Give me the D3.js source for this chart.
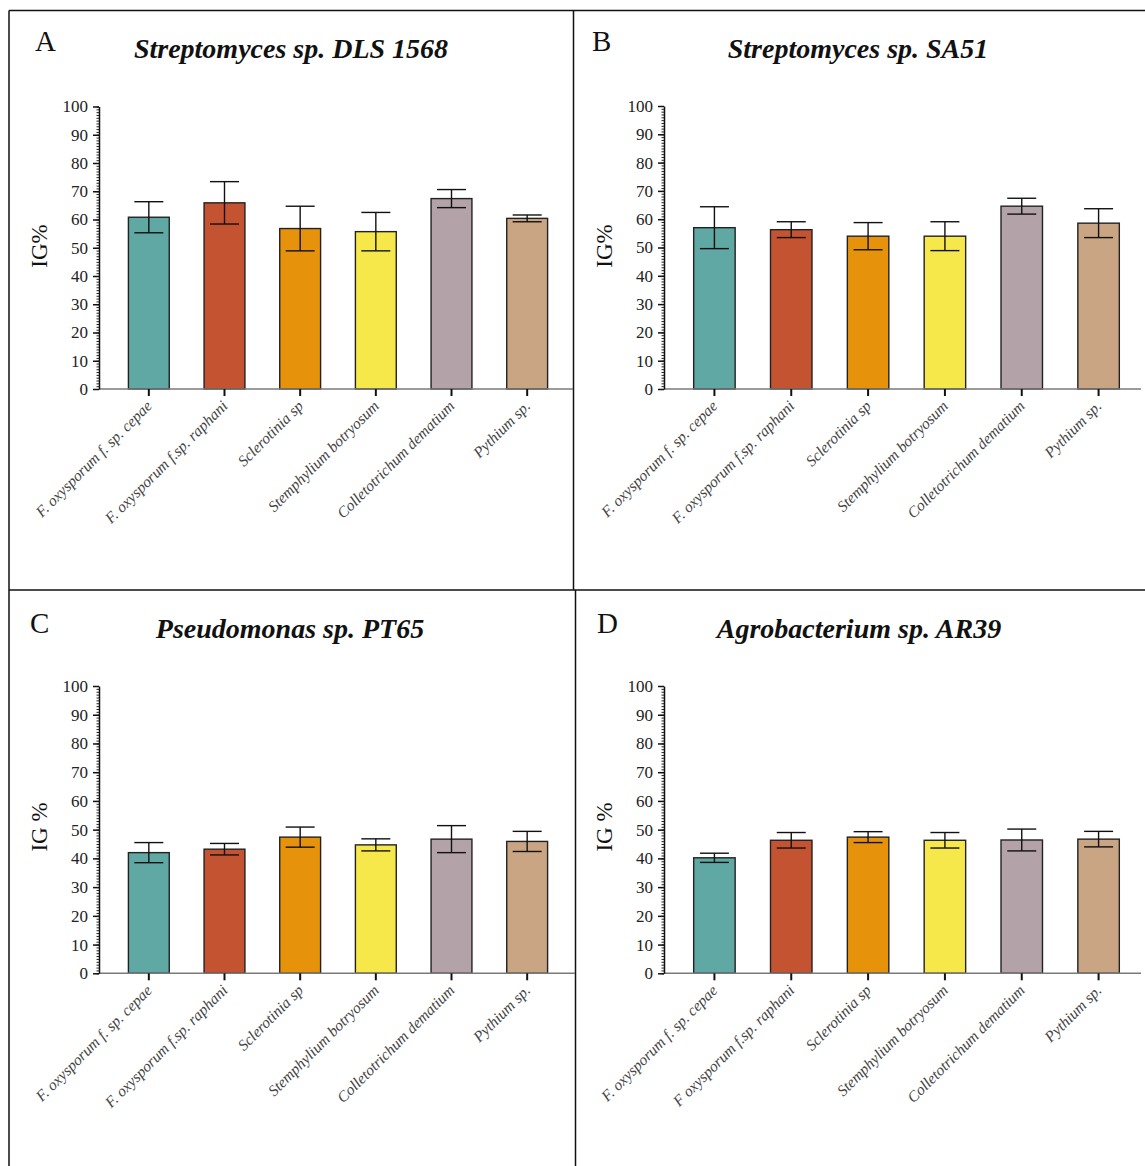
<!DOCTYPE html>
<html>
<head>
<meta charset="utf-8">
<script src="https://cdn.jsdelivr.net/npm/d3@7"></script>
<style>
  html, body { margin: 0; padding: 0; background: #fff; }
  svg { display: block; }
</style>
</head>
<body>
<svg id="fig" width="1145" height="1166"></svg>
<script>
// Pathogen names on the x axis
const pathogens = ["F. oxysporum f. sp. cepae", "F. oxysporum f.sp. raphani", "Sclerotinia sp",
                   "Stemphylium botryosum", "Colletotrichum dematium", "Pythium sp."];
const pathogensD = ["F. oxysporum f. sp. cepae", "F oxysporum f.sp. raphani", "Sclerotinia sp",
                    "Stemphylium botryosum", "Colletotrichum dematium", "Pythium sp."];

// Mean growth inhibition (IG %) and standard deviation for each strain
const meanA = [60.8, 65.9, 56.8, 55.7, 67.4, 60.4];
const sdA   = [5.5, 7.5, 7.9, 6.8, 3.2, 1.2];
const meanB = [57.0, 56.3, 54.0, 54.0, 64.6, 58.6];
const sdB   = [7.4, 2.8, 4.8, 5.1, 2.8, 5.1];
const meanC = [42.0, 43.2, 47.4, 44.7, 46.7, 45.9];
const sdC   = [3.5, 2.0, 3.5, 2.1, 4.7, 3.5];
const meanD = [40.2, 46.3, 47.4, 46.3, 46.4, 46.7];
const sdD   = [1.6, 2.7, 1.9, 2.7, 3.8, 2.7];

const yTicks = [0, 10, 20, 30, 40, 50, 60, 70, 80, 90, 100];
const barColors = ["#5fa8a3", "#c45331", "#e6930b", "#f6e84b", "#b3a2a8", "#c9a584"];

const svg = d3.select("#fig");
const serif = "'Liberation Serif', 'Times New Roman', serif";

// Panel frame lines
const frame = svg.append("g").attr("stroke", "#111").attr("stroke-width", 1.5).attr("fill", "none");
frame.append("line").attr("x1", 9).attr("y1", 10.5).attr("x2", 1145).attr("y2", 10.5);
frame.append("line").attr("x1", 9).attr("y1", 10.5).attr("x2", 9).attr("y2", 1166);
frame.append("line").attr("x1", 573.5).attr("y1", 10.5).attr("x2", 573.5).attr("y2", 590);
frame.append("line").attr("x1", 575.5).attr("y1", 590).attr("x2", 575.5).attr("y2", 1166);
frame.append("line").attr("x1", 9).attr("y1", 590).attr("x2", 1145).attr("y2", 590);

const panels = [
  { letter: "A", title: "Streptomyces sp. DLS 1568", ylab: "IG%",  names: pathogens,  mean: meanA, sd: sdA,
    axisX: 99,  band: [111, 565],  y0: 389,   y100: 106.5, xEnd: 573,
    letterPos: [35, 51],  titlePos: [291, 58],  ylabPos: [47, 246] },
  { letter: "B", title: "Streptomyces sp. SA51",      ylab: "IG%",  names: pathogens,  mean: meanB, sd: sdB,
    axisX: 664, band: [676, 1137], y0: 389,   y100: 106,   xEnd: 1141,
    letterPos: [592, 51], titlePos: [858, 58],  ylabPos: [612, 246] },
  { letter: "C", title: "Pseudomonas sp. PT65",       ylab: "IG %", names: pathogens,  mean: meanC, sd: sdC,
    axisX: 99,  band: [111, 565],  y0: 973.3, y100: 686,   xEnd: 575,
    letterPos: [30, 633], titlePos: [290, 638], ylabPos: [47, 827] },
  { letter: "D", title: "Agrobacterium sp. AR39",     ylab: "IG %", names: pathogensD, mean: meanD, sd: sdD,
    axisX: 664, band: [676, 1137], y0: 973.3, y100: 686,   xEnd: 1141,
    letterPos: [597, 633], titlePos: [859, 638], ylabPos: [612, 827] }
];

panels.forEach(p => {
  const g = svg.append("g");
  const x = d3.scaleBand().domain(p.names).range(p.band).paddingInner(0.46).paddingOuter(0.23);
  const y = d3.scaleLinear().domain([0, 100]).range([p.y0, p.y100]);

  // Panel letter and title
  g.append("text").attr("x", p.letterPos[0]).attr("y", p.letterPos[1])
    .attr("font-family", serif).attr("font-size", 29).attr("fill", "#111").text(p.letter);
  g.append("text").attr("x", p.titlePos[0]).attr("y", p.titlePos[1]).attr("text-anchor", "middle")
    .attr("font-family", serif).attr("font-size", 28).attr("font-weight", "bold").attr("font-style", "italic")
    .attr("fill", "#111").text(p.title);

  // Y axis label
  g.append("text").attr("transform", `translate(${p.ylabPos[0]},${p.ylabPos[1]}) rotate(-90)`)
    .attr("text-anchor", "middle").attr("font-family", serif).attr("font-size", 23).attr("fill", "#111")
    .text(p.ylab);

  // Bars
  const bars = p.names.map((n, i) => ({ name: n, mean: p.mean[i], sd: p.sd[i], color: barColors[i] }));
  g.selectAll("rect.bar").data(bars).join("rect").attr("class", "bar")
    .attr("x", d => x(d.name)).attr("width", x.bandwidth())
    .attr("y", d => y(d.mean)).attr("height", d => y(0) - y(d.mean))
    .attr("fill", d => d.color).attr("stroke", "#222").attr("stroke-width", 1.4);

  // Error bars (mean ± SD)
  const capW = 29;
  const cx = d => x(d.name) + x.bandwidth() / 2;
  const eb = g.selectAll("g.err").data(bars).join("g").attr("class", "err")
    .attr("stroke", "#111").attr("stroke-width", 1.4);
  eb.append("line")
    .attr("x1", cx).attr("x2", cx)
    .attr("y1", d => y(d.mean + d.sd)).attr("y2", d => y(d.mean - d.sd));
  eb.append("line")
    .attr("x1", d => cx(d) - capW / 2).attr("x2", d => cx(d) + capW / 2)
    .attr("y1", d => y(d.mean + d.sd)).attr("y2", d => y(d.mean + d.sd));
  eb.append("line")
    .attr("x1", d => cx(d) - capW / 2).attr("x2", d => cx(d) + capW / 2)
    .attr("y1", d => y(d.mean - d.sd)).attr("y2", d => y(d.mean - d.sd));

  // X axis: gray baseline, short black ticks, rotated italic labels
  g.append("line").attr("x1", p.axisX).attr("x2", p.xEnd).attr("y1", y(0)).attr("y2", y(0))
    .attr("stroke", "#7a7a7a").attr("stroke-width", 1.5);
  const xAxis = g.append("g").attr("transform", `translate(0,${y(0)})`)
    .call(d3.axisBottom(x).tickSize(7).tickPadding(3));
  xAxis.select(".domain").remove();
  xAxis.selectAll(".tick line").attr("stroke", "#111").attr("stroke-width", 2);
  xAxis.selectAll(".tick text")
    .attr("font-family", serif).attr("font-size", 15.5).attr("font-style", "italic").attr("fill", "#444")
    .attr("text-anchor", "end").attr("dy", 0)
    .attr("transform", "translate(4,18) rotate(-45)").attr("y", 0).attr("x", 0);

  // Y axis: major ticks every 10, minor ticks every 1
  const minor = g.append("g").attr("transform", `translate(${p.axisX},0)`)
    .call(d3.axisLeft(y).tickValues(d3.range(0, 101, 1)).tickSize(2.5).tickFormat(""));
  minor.select(".domain").remove();
  minor.selectAll(".tick line").attr("stroke", "#222").attr("stroke-width", 1);
  const yAxis = g.append("g").attr("transform", `translate(${p.axisX},0)`)
    .call(d3.axisLeft(y).tickValues(yTicks).tickSize(6).tickSizeOuter(0).tickPadding(5));
  yAxis.select(".domain").attr("stroke", "#111").attr("stroke-width", 1.5);
  yAxis.selectAll(".tick line").attr("stroke", "#111").attr("stroke-width", 1.5);
  yAxis.selectAll(".tick text").attr("font-family", serif).attr("font-size", 17).attr("fill", "#222");
});
</script>
</body>
</html>
